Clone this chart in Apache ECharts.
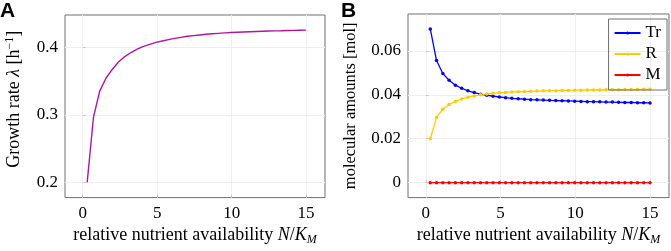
<!DOCTYPE html>
<html>
<head>
<meta charset="utf-8">
<script src="https://cdn.jsdelivr.net/npm/echarts@6/dist/echarts.min.js"></script>
<style>
html, body { margin: 0; padding: 0; background: #fff; }
#chart { width: 671px; height: 251px; }
</style>
</head>
<body>
<div id="chart"></div>
<script>
// nutrient availability N/K_M (shared by both panels)
var nutrient = [0.30, 0.72, 1.14, 1.56, 1.98, 2.40, 2.82, 3.24, 3.66, 4.08, 4.50, 4.92,
    5.34, 5.76, 6.18, 6.60, 7.02, 7.44, 7.86, 8.28, 8.70, 9.12, 9.54, 9.96,
    10.38, 10.80, 11.22, 11.64, 12.06, 12.48, 12.90, 13.32, 13.74, 14.16, 14.58, 15.00];

// panel A: growth rate
var growthRate = [0.200, 0.296, 0.335, 0.354, 0.367, 0.378, 0.386, 0.392, 0.397, 0.401, 0.404, 0.407,
    0.409, 0.411, 0.413, 0.4145, 0.416, 0.417, 0.418, 0.419, 0.4197, 0.4204, 0.421, 0.4216,
    0.422, 0.4224, 0.4228, 0.4232, 0.4235, 0.4238, 0.4241, 0.4243, 0.4246, 0.4248, 0.425, 0.4252];

// panel B: molecular amounts
var trAmount = [0.0700, 0.0556, 0.0497, 0.0466, 0.0444, 0.0430, 0.0418, 0.0410, 0.0403, 0.0398, 0.0394, 0.0390,
    0.0387, 0.0384, 0.0382, 0.0380, 0.0378, 0.0377, 0.0376, 0.0375, 0.0374, 0.0373, 0.0372, 0.0371,
    0.0370, 0.0369, 0.0369, 0.0368, 0.0367, 0.0367, 0.0366, 0.0365, 0.0365, 0.0364, 0.0364, 0.0363];
var rAmount = [0.0200, 0.0297, 0.0334, 0.0356, 0.0370, 0.0381, 0.0389, 0.0395, 0.0400, 0.0404, 0.0407, 0.0409,
    0.0411, 0.0413, 0.0414, 0.0415, 0.0416, 0.0417, 0.0418, 0.0419, 0.0419, 0.0420, 0.0420, 0.0421,
    0.0421, 0.0422, 0.0422, 0.0422, 0.0423, 0.0423, 0.0423, 0.0424, 0.0424, 0.0424, 0.0425, 0.0425];
var mAmount = [0, 0, 0, 0, 0, 0, 0, 0, 0, 0, 0, 0,
    0, 0, 0, 0, 0, 0, 0, 0, 0, 0, 0, 0,
    0, 0, 0, 0, 0, 0, 0, 0, 0, 0, 0, 0];

var xTicks = [0, 5, 10, 15];
var yTicksA = [0.2, 0.3, 0.4];
var yTicksB = [0, 0.02, 0.04, 0.06];

function pairs(xs, ys) {
    return xs.map(function (x, i) { return [x, ys[i]]; });
}

var serif = "Liberation Serif";
var frame = "#707070";
var labelStyle = { fontFamily: serif, fontSize: 17, color: "#000" };

function xAxisFor(gridIndex) {
    return {
        type: "value",
        gridIndex: gridIndex,
        min: -1.19,
        max: 16.27,
        axisLine: { show: false },
        axisTick: { show: true, inside: true, length: 3, customValues: xTicks, lineStyle: { color: "#c8c8c8" } },
        axisLabel: Object.assign({ customValues: xTicks, margin: 7 }, labelStyle),
        splitLine: { show: true, lineStyle: { color: "#efefef" } },
        name: "{r|relative nutrient availability }{i|N}{r|/}{i|K}{s|M}",
        nameLocation: "middle",
        nameGap: 27,
        nameTextStyle: {
            rich: {
                r: { fontFamily: serif, fontSize: 18, color: "#000" },
                i: { fontFamily: serif, fontSize: 18, fontStyle: "italic", color: "#000" },
                s: { fontFamily: serif, fontSize: 12, fontStyle: "italic", color: "#000", padding: [9, 0, 0, 0] }
            }
        }
    };
}

var option = {
    animation: false,
    textStyle: { fontFamily: serif },
    grid: [
        { left: 65, top: 15, width: 260, height: 189, show: true, borderColor: frame, borderWidth: 1 },
        { left: 408, top: 14, width: 261, height: 189, show: true, borderColor: frame, borderWidth: 1 }
    ],
    title: [
        { text: "A", left: 0, top: 1, padding: 0, textStyle: { fontFamily: "Liberation Sans", fontWeight: "bold", fontSize: 21, color: "#000" } },
        { text: "B", left: 341, top: 1, padding: 0, textStyle: { fontFamily: "Liberation Sans", fontWeight: "bold", fontSize: 21, color: "#000" } }
    ],
    legend: {
        orient: "vertical",
        right: 4,
        top: 19,
        padding: [5, 6, 6, 5],
        itemWidth: 26,
        itemHeight: 4,
        itemGap: 3,
        borderColor: "#707070",
        borderWidth: 1,
        textStyle: { fontFamily: serif, fontSize: 17, lineHeight: 18, color: "#000" },
        data: ["Tr", "R", "M"]
    },
    xAxis: [xAxisFor(0), xAxisFor(1)],
    yAxis: [
        {
            type: "value",
            gridIndex: 0,
            min: 0.1775,
            max: 0.4475,
            axisLine: { show: false },
            axisTick: { show: true, inside: true, length: 3, customValues: yTicksA, lineStyle: { color: "#c8c8c8" } },
            axisLabel: Object.assign({ customValues: yTicksA, margin: 7 }, labelStyle),
            splitLine: { show: true, lineStyle: { color: "#efefef" } },
            name: "{r|Growth rate }{i|λ}{r| [h}{p|−1}{r|]}",
            nameLocation: "middle",
            nameGap: 40,
            nameTextStyle: {
                padding: [0, 0, 0, 14],
                rich: {
                    r: { fontFamily: serif, fontSize: 18, color: "#000" },
                    i: { fontFamily: serif, fontSize: 18, fontStyle: "italic", color: "#000" },
                    p: { fontFamily: serif, fontSize: 12, color: "#000", padding: [0, 0, 9, 0] }
                }
            }
        },
        {
            type: "value",
            gridIndex: 1,
            min: -0.0068,
            max: 0.0768,
            axisLine: { show: false },
            axisTick: { show: true, inside: true, length: 3, customValues: yTicksB, lineStyle: { color: "#c8c8c8" } },
            axisLabel: Object.assign({ customValues: yTicksB, margin: 7 }, labelStyle),
            splitLine: { show: true, lineStyle: { color: "#efefef" } },
            name: "molecular amounts [mol]",
            nameLocation: "middle",
            nameGap: 49,
            nameTextStyle: { fontFamily: serif, fontSize: 16.5, color: "#000" }
        }
    ],
    series: [
        {
            name: "Growth rate",
            type: "line",
            xAxisIndex: 0,
            yAxisIndex: 0,
            showSymbol: false,
            symbol: "none",
            lineStyle: { color: "#b0159f", width: 1.4 },
            data: pairs(nutrient, growthRate)
        },
        {
            name: "Tr",
            type: "line",
            xAxisIndex: 1,
            yAxisIndex: 1,
            symbol: "circle",
            symbolSize: 3.5,
            itemStyle: { color: "#0000ff" },
            lineStyle: { color: "#0000ff", width: 1.3 },
            data: pairs(nutrient, trAmount)
        },
        {
            name: "R",
            type: "line",
            xAxisIndex: 1,
            yAxisIndex: 1,
            symbol: "circle",
            symbolSize: 3.5,
            itemStyle: { color: "#ffcc00" },
            lineStyle: { color: "#ffcc00", width: 1.3 },
            data: pairs(nutrient, rAmount)
        },
        {
            name: "M",
            type: "line",
            xAxisIndex: 1,
            yAxisIndex: 1,
            symbol: "circle",
            symbolSize: 3.5,
            itemStyle: { color: "#ff0000" },
            lineStyle: { color: "#ff0000", width: 1.3 },
            data: pairs(nutrient, mAmount)
        }
    ]
};

var chart = echarts.init(document.getElementById("chart"));
chart.setOption(option);
</script>
</body>
</html>
